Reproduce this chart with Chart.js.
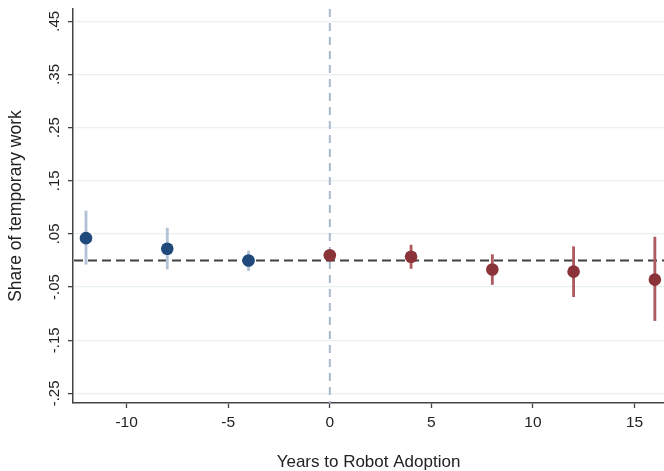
<!DOCTYPE html>
<html>
<head>
<meta charset="utf-8">
<script src="https://cdn.jsdelivr.net/npm/chart.js@4"></script>
<style>
  html, body { margin: 0; padding: 0; background: #fff; }
  #wrap { width: 664px; height: 471px; }
</style>
</head>
<body>
<div id="wrap"><canvas id="eventChart"></canvas></div>
<script>
// event-study data: years relative to robot adoption
const years = [-12, -8, -4, 0, 4, 8, 12, 16];
const coef = [0.042, 0.022, 0.0, 0.010, 0.007, -0.017, -0.021, -0.036];
const ciLow = [-0.007, -0.016, -0.019, 0.003, -0.015, -0.045, -0.068, -0.113];
const ciHigh = [0.093, 0.061, 0.018, 0.017, 0.029, 0.011, 0.026, 0.044];
const yTicks = [-0.25, -0.15, -0.05, 0.05, 0.15, 0.25, 0.35, 0.45];
const xTicks = [-10, -5, 0, 5, 10, 15];

const blue = "#1f4a7b";
const blueCi = "#b3c3d6";
const red = "#8a3439";
const redCi = "#ad5b61";

const isPre = (x) => x < 0;

// dashed reference lines at y=0 and x=0
const refLines = {
  id: "refLines",
  beforeDatasetsDraw(chart) {
    const { ctx, chartArea, scales } = chart;
    ctx.save();
    ctx.lineWidth = 2;
    // vertical line at adoption
    const x0 = scales.x.getPixelForValue(0);
    ctx.strokeStyle = "#a9b9cd";
    ctx.setLineDash([8, 6]);
    ctx.beginPath();
    ctx.moveTo(x0, chartArea.top);
    ctx.lineTo(x0, chartArea.bottom);
    ctx.stroke();
    // horizontal zero line
    const y0 = scales.y.getPixelForValue(0);
    ctx.strokeStyle = "#404040";
    ctx.setLineDash([9, 5]);
    ctx.beginPath();
    ctx.moveTo(chartArea.left + 1, y0);
    ctx.lineTo(chartArea.right, y0);
    ctx.stroke();
    ctx.restore();
  },
};

const fmtY = (v) => v.toFixed(2).replace(/^(-?)0\./, "$1.");
const font = "'Liberation Sans', Arial, sans-serif";

new Chart(document.getElementById("eventChart"), {
  type: "scatter",
  data: {
    datasets: [
      {
        type: "scatter",
        label: "coef",
        data: years.map((x, i) => ({ x: x, y: coef[i] })),
        pointRadius: 6.3,
        pointHoverRadius: 6.3,
        pointBorderWidth: 0,
        pointBackgroundColor: years.map((x) => (isPre(x) ? blue : red)),
        order: 0,
      },
      {
        type: "bar",
        label: "ci",
        data: years.map((x, i) => ({ x: x, y: [ciLow[i], ciHigh[i]] })),
        backgroundColor: years.map((x) => (isPre(x) ? blueCi : redCi)),
        barThickness: 2.2,
        order: 1,
      },
    ],
  },
  options: {
    responsive: true,
    maintainAspectRatio: false,
    animation: false,
    layout: { autoPadding: false, padding: { top: 7, right: 0, left: 0, bottom: 0 } },
    plugins: {
      legend: { display: false },
      tooltip: { enabled: false },
    },
    scales: {
      x: {
        type: "linear",
        min: -12.64,
        max: 16.45,
        offset: false,
        afterBuildTicks: (scale) => {
          scale.ticks = xTicks.map((v) => ({ value: v }));
        },
        afterFit: (scale) => {
          scale.height = 68;
        },
        ticks: {
          color: "#222",
          padding: 5,
          maxRotation: 0,
          font: { family: font, size: 15.5 },
        },
        grid: {
          offset: false,
          drawOnChartArea: false,
          tickLength: 5,
          tickColor: "#444",
          tickWidth: 1.3,
        },
        border: { color: "#444", width: 1.5 },
        title: {
          display: true,
          text: "Years to Robot Adoption",
          color: "#222",
          padding: { top: 0, bottom: -2 },
          font: { family: font, size: 17 },
        },
      },
      y: {
        type: "linear",
        min: -0.268,
        max: 0.473,
        afterBuildTicks: (scale) => {
          scale.ticks = yTicks.map((v) => ({ value: v }));
        },
        afterFit: (scale) => {
          scale.width = 73;
        },
        ticks: {
          color: "#222",
          padding: 0,
          minRotation: 90,
          maxRotation: 90,
          crossAlign: "center",
          callback: (v) => fmtY(v),
          font: { family: font, size: 15 },
        },
        grid: {
          color: "#e9f1f3",
          lineWidth: 1.3,
          tickLength: 5,
          tickColor: "#444",
          tickWidth: 1.3,
        },
        border: { color: "#444", width: 1.5 },
        title: {
          display: true,
          text: "Share of temporary work",
          color: "#222",
          padding: { top: 6, bottom: 0 },
          font: { family: font, size: 17.5 },
        },
      },
    },
  },
  plugins: [refLines],
});
</script>
</body>
</html>
